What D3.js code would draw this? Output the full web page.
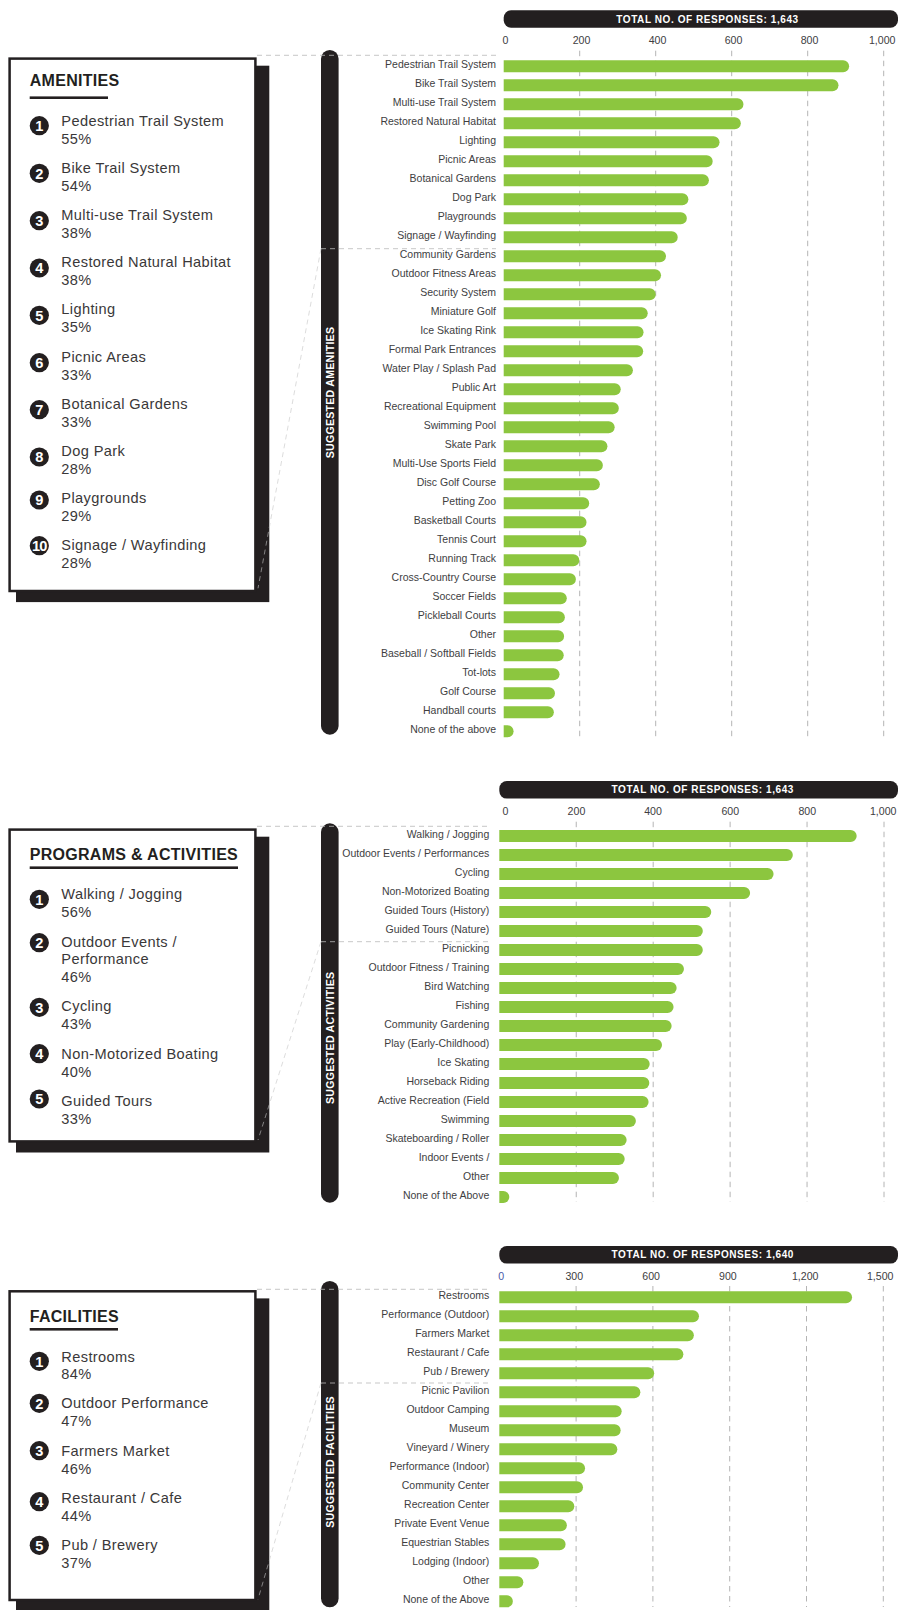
<!DOCTYPE html>
<html>
<head>
<meta charset="utf-8">
<script src="https://cdn.jsdelivr.net/npm/d3@7"></script>
<style>
  body { margin: 0; background: #fff; }
  svg { display: block; }
  text { font-family: "Liberation Sans", Arial, sans-serif; }
</style>
</head>
<body>
<svg id="chart" width="924" height="1610"></svg>
<script>
const amenityNames = ['Pedestrian Trail System', 'Bike Trail System', 'Multi-use Trail System', 'Restored Natural Habitat', 'Lighting', 'Picnic Areas', 'Botanical Gardens', 'Dog Park', 'Playgrounds', 'Signage / Wayfinding', 'Community Gardens', 'Outdoor Fitness Areas', 'Security System', 'Miniature Golf', 'Ice Skating Rink', 'Formal Park Entrances', 'Water Play / Splash Pad', 'Public Art', 'Recreational Equipment', 'Swimming Pool', 'Skate Park', 'Multi-Use Sports Field', 'Disc Golf Course', 'Petting Zoo', 'Basketball Courts', 'Tennis Court', 'Running Track', 'Cross-Country Course', 'Soccer Fields', 'Pickleball Courts', 'Other', 'Baseball / Softball Fields', 'Tot-lots', 'Golf Course', 'Handball courts', 'None of the above'];
const amenityValues = [909, 881, 631, 624, 568, 550, 540, 486, 482, 458, 427, 414, 400, 379, 368, 367, 340, 308, 303, 292, 273, 261, 253, 225, 218, 218, 199, 190, 166, 161, 159, 158, 147, 135, 132, 26];
const amenityTicks = [0, 200, 400, 600, 800, 1000];
const amenityKey = ['Pedestrian Trail System', 'Bike Trail System', 'Multi-use Trail System', 'Restored Natural Habitat', 'Lighting', 'Picnic Areas', 'Botanical Gardens', 'Dog Park', 'Playgrounds', 'Signage / Wayfinding'];
const amenityShares = ['55%', '54%', '38%', '38%', '35%', '33%', '33%', '28%', '29%', '28%'];

const programNames = ['Walking / Jogging', 'Outdoor Events / Performances', 'Cycling', 'Non-Motorized Boating', 'Guided Tours (History)', 'Guided Tours (Nature)', 'Picnicking', 'Outdoor Fitness / Training', 'Bird Watching', 'Fishing', 'Community Gardening', 'Play (Early-Childhood)', 'Ice Skating', 'Horseback Riding', 'Active Recreation (Field', 'Swimming', 'Skateboarding / Roller', 'Indoor Events /', 'Other', 'None of the Above'];
const programValues = [929, 763, 713, 652, 551, 529, 529, 480, 461, 453, 448, 423, 391, 390, 388, 355, 331, 326, 311, 26];
const programTicks = [0, 200, 400, 600, 800, 1000];
const programKey = [['Walking / Jogging'], ['Outdoor Events /', 'Performance'], ['Cycling'], ['Non-Motorized Boating'], ['Guided Tours']];
const programShares = ['56%', '46%', '43%', '40%', '33%'];

const facilityNames = ['Restrooms', 'Performance (Outdoor)', 'Farmers Market', 'Restaurant / Cafe', 'Pub / Brewery', 'Picnic Pavilion', 'Outdoor Camping', 'Museum', 'Vineyard / Winery', 'Performance (Indoor)', 'Community Center', 'Recreation Center', 'Private Event Venue', 'Equestrian Stables', 'Lodging (Indoor)', 'Other', 'None of the Above'];
const facilityValues = [1378, 780, 760, 719, 605, 551, 478, 474, 461, 335, 327, 293, 264, 259, 155, 94, 53];
const facilityTicks = [0, 300, 600, 900, 1200, 1500];
const facilityKey = ['Restrooms', 'Outdoor Performance', 'Farmers Market', 'Restaurant / Cafe', 'Pub / Brewery'];
const facilityShares = ['84%', '47%', '46%', '44%', '37%'];

const INK = '#231f20';
const GREEN = '#8cc63f';
const ROW = 19;
const BAR = 12;

const barPath = (x0, x1, y, h) => {
  const r = h / 2;
  const p = d3.path();
  p.moveTo(x0, y);
  p.lineTo(x1 - r, y);
  p.arc(x1 - r, y + r, r, -Math.PI / 2, Math.PI / 2);
  p.lineTo(x0, y + h);
  p.closePath();
  return p.toString();
};

const svg = d3.select('#chart');

const drawPanel = (cfg) => {
  const g = svg.append('g');

  // key box and its shadow
  g.append('rect')
    .attr('x', 16)
    .attr('y', cfg.boxTop + 8.4)
    .attr('width', 253.3)
    .attr('height', cfg.boxBottom - cfg.boxTop + 1.4)
    .attr('fill', INK);
  g.append('rect')
    .attr('x', 9.6)
    .attr('y', cfg.boxTop + 1.3)
    .attr('width', 245.8)
    .attr('height', cfg.boxBottom - cfg.boxTop - 2.6)
    .attr('fill', '#fff')
    .attr('stroke', INK)
    .attr('stroke-width', 2.5);

  g.append('text')
    .attr('x', 29.7)
    .attr('y', cfg.titleY)
    .attr('font-size', 16)
    .attr('font-weight', 700)
    .attr('letter-spacing', 0.3)
    .attr('fill', INK)
    .text(cfg.title);
  g.append('rect')
    .attr('x', 29.7)
    .attr('y', cfg.ruleY - 1.3)
    .attr('width', cfg.ruleWidth)
    .attr('height', 2.6)
    .attr('fill', INK);

  const items = g.selectAll('g.item')
    .data(cfg.key)
    .enter()
    .append('g')
    .attr('class', 'item');
  items.append('circle')
    .attr('cx', 39.3)
    .attr('cy', (d, i) => cfg.circleY[i])
    .attr('r', 9.6)
    .attr('fill', INK);
  items.append('text')
    .attr('x', 39.3)
    .attr('y', (d, i) => cfg.circleY[i] + 5.2)
    .attr('text-anchor', 'middle')
    .attr('font-size', 14.6)
    .attr('font-weight', 700)
    .attr('letter-spacing', (d, i) => (i === 9 ? -0.8 : 0))
    .attr('fill', '#fff')
    .text((d, i) => i + 1);
  items.each(function (d, i) {
    const lines = Array.isArray(d) ? d : [d];
    const item = d3.select(this);
    lines.concat(cfg.shares[i]).forEach((line, j) => {
      item.append('text')
        .attr('x', 61.3)
        .attr('y', cfg.nameY[i] + (j === lines.length ? 17.6 + (lines.length - 1) * 17 : j * 17))
        .attr('font-size', 14.6)
        .attr('letter-spacing', 0.38)
        .attr('fill', '#3a3839')
        .text(line);
    });
  });

  // scales
  const x = d3.scaleLinear().domain([0, cfg.xMax]).range([cfg.x0, cfg.x1]);
  const y = d3.scaleBand()
    .domain(cfg.names)
    .range([cfg.rowTop - ROW / 2, cfg.rowTop - ROW / 2 + cfg.names.length * ROW])
    .paddingInner((ROW - BAR) / ROW)
    .paddingOuter((ROW - BAR) / ROW / 2);

  // grid
  g.selectAll('line.grid')
    .data(cfg.ticks.filter((d) => d > 0))
    .enter()
    .append('line')
    .attr('class', 'grid')
    .attr('x1', (d) => x(d))
    .attr('x2', (d) => x(d))
    .attr('y1', cfg.gridTop)
    .attr('y2', cfg.gridBottom)
    .attr('stroke', '#b4b4b4')
    .attr('stroke-width', 1)
    .attr('stroke-dasharray', '5.5 4.5');

  // suggested column
  g.append('rect')
    .attr('x', 321)
    .attr('y', cfg.colTop)
    .attr('width', 17.6)
    .attr('height', cfg.colBottom - cfg.colTop)
    .attr('rx', 8.8)
    .attr('fill', INK);
  g.append('text')
    .attr('transform', `translate(333.6,${cfg.colTextY}) rotate(-90)`)
    .attr('text-anchor', 'middle')
    .attr('font-size', 10.6)
    .attr('font-weight', 700)
    .attr('letter-spacing', 0.25)
    .attr('fill', '#fff')
    .text(cfg.colText);

  // dashed leaders from the key box to the rows
  const leader = (x1, y1, x2, y2, w, c) => g.append('line')
    .attr('x1', x1).attr('y1', y1).attr('x2', x2).attr('y2', y2)
    .attr('stroke', c)
    .attr('stroke-width', w)
    .attr('stroke-dasharray', '5 4');
  leader(257, cfg.leadTop, cfg.labelX, cfg.leadTop, 0.8, '#b9b9b9');
  leader(321, cfg.leadMid, cfg.labelX, cfg.leadMid, 0.8, '#b9b9b9');
  leader(321, cfg.leadMid, 258, cfg.leadEnd, 0.6, '#c4c4c4');

  // total pill
  g.append('rect')
    .attr('x', cfg.x0)
    .attr('y', cfg.pillY)
    .attr('width', 898 - cfg.x0)
    .attr('height', 17.6)
    .attr('rx', 7.5)
    .attr('fill', INK);
  g.append('text')
    .attr('x', cfg.pillTextX)
    .attr('y', cfg.pillY + 12.4)
    .attr('text-anchor', 'middle')
    .attr('font-size', 10)
    .attr('font-weight', 700)
    .attr('letter-spacing', 0.58)
    .attr('fill', '#fff')
    .text(cfg.total);

  // axes
  const xAxis = g.append('g')
    .attr('transform', `translate(0,${cfg.axisY})`)
    .call(d3.axisTop(x).tickValues(cfg.ticks).tickSize(0).tickPadding(0).tickFormat(d3.format(',')));
  xAxis.select('.domain').remove();
  xAxis.selectAll('text')
    .attr('font-family', null)
    .attr('font-size', 10.6)
    .attr('dx', (d, i) => cfg.tickShift[i])
    .attr('fill', (d, i) => (i === 0 ? cfg.zeroColor : '#403e3f'));

  const yAxis = g.append('g')
    .attr('transform', `translate(${cfg.labelX},0)`)
    .call(d3.axisLeft(y).tickSize(0).tickPadding(0));
  yAxis.select('.domain').remove();
  yAxis.selectAll('text')
    .attr('font-family', null)
    .attr('font-size', 10.5)
    .attr('dy', '0.18em')
    .attr('fill', '#403e3f');

  // bars
  g.selectAll('path.bar')
    .data(cfg.values)
    .enter()
    .append('path')
    .attr('class', 'bar')
    .attr('d', (d, i) => barPath(x(0), x(d), y(cfg.names[i]), y.bandwidth()))
    .attr('fill', GREEN);
};

drawPanel({
  title: 'AMENITIES', titleY: 86, ruleY: 97.7, ruleWidth: 78.3,
  key: amenityKey, shares: amenityShares,
  nameY: [126, 173, 220, 267, 314.3, 362, 409, 456, 503.3, 550],
  circleY: [125.7, 173.3, 220.7, 268, 315.3, 362.7, 409.7, 457, 500, 545.7],
  boxTop: 57.3, boxBottom: 592.3,
  names: amenityNames, values: amenityValues, ticks: amenityTicks, xMax: 1000,
  x0: 503.7, x1: 883.7, rowTop: 66.3, labelX: 496, axisY: 44,
  tickShift: [1.3, 1.3, 1.3, 1.3, 1.3, -2], zeroColor: '#403e3f',
  gridTop: 50.7, gridBottom: 739,
  colTop: 50, colBottom: 734.7, colTextY: 392.5, colText: 'SUGGESTED AMENITIES',
  leadTop: 55.3, leadMid: 248.7, leadEnd: 588.3,
  pillY: 10.2, pillTextX: 707.5, total: 'TOTAL NO. OF RESPONSES: 1,643',
});

drawPanel({
  title: 'PROGRAMS & ACTIVITIES', titleY: 860, ruleY: 867.7, ruleWidth: 208.3,
  key: programKey, shares: programShares,
  nameY: [899, 947.3, 1011.3, 1059.3, 1106.3],
  circleY: [899.3, 942.7, 1007.3, 1053.7, 1099],
  boxTop: 828.3, boxBottom: 1142.7,
  names: programNames, values: programValues, ticks: programTicks, xMax: 1000,
  x0: 499.3, x1: 884, rowTop: 836, labelX: 489.3, axisY: 814.7,
  tickShift: [5.7, -0.3, -0.7, -0.3, -0.3, -1.3], zeroColor: '#403e3f',
  gridTop: 821.7, gridBottom: 1202,
  colTop: 823.3, colBottom: 1202.7, colTextY: 1037.8, colText: 'SUGGESTED ACTIVITIES',
  leadTop: 826.3, leadMid: 941.7, leadEnd: 1140,
  pillY: 781, pillTextX: 702.8, total: 'TOTAL NO. OF RESPONSES: 1,643',
});

drawPanel({
  title: 'FACILITIES', titleY: 1322.3, ruleY: 1329.3, ruleWidth: 88.3,
  key: facilityKey, shares: facilityShares,
  nameY: [1361.7, 1408.3, 1456.3, 1503.3, 1550.3],
  circleY: [1361.3, 1403.3, 1450.7, 1501.7, 1545.3],
  boxTop: 1290, boxBottom: 1601.3,
  names: facilityNames, values: facilityValues, ticks: facilityTicks, xMax: 1500,
  x0: 499.3, x1: 883.3, rowTop: 1297.3, labelX: 489.3, axisY: 1279.7,
  tickShift: [1.4, -2.3, -2.3, -2.3, -1.8, -3.6], zeroColor: '#4a5ba8',
  gridTop: 1286, gridBottom: 1607,
  colTop: 1281, colBottom: 1607.3, colTextY: 1462, colText: 'SUGGESTED FACILITIES',
  leadTop: 1289.3, leadMid: 1383, leadEnd: 1599.3,
  pillY: 1246, pillTextX: 702.8, total: 'TOTAL NO. OF RESPONSES: 1,640',
});
</script>
</body>
</html>
